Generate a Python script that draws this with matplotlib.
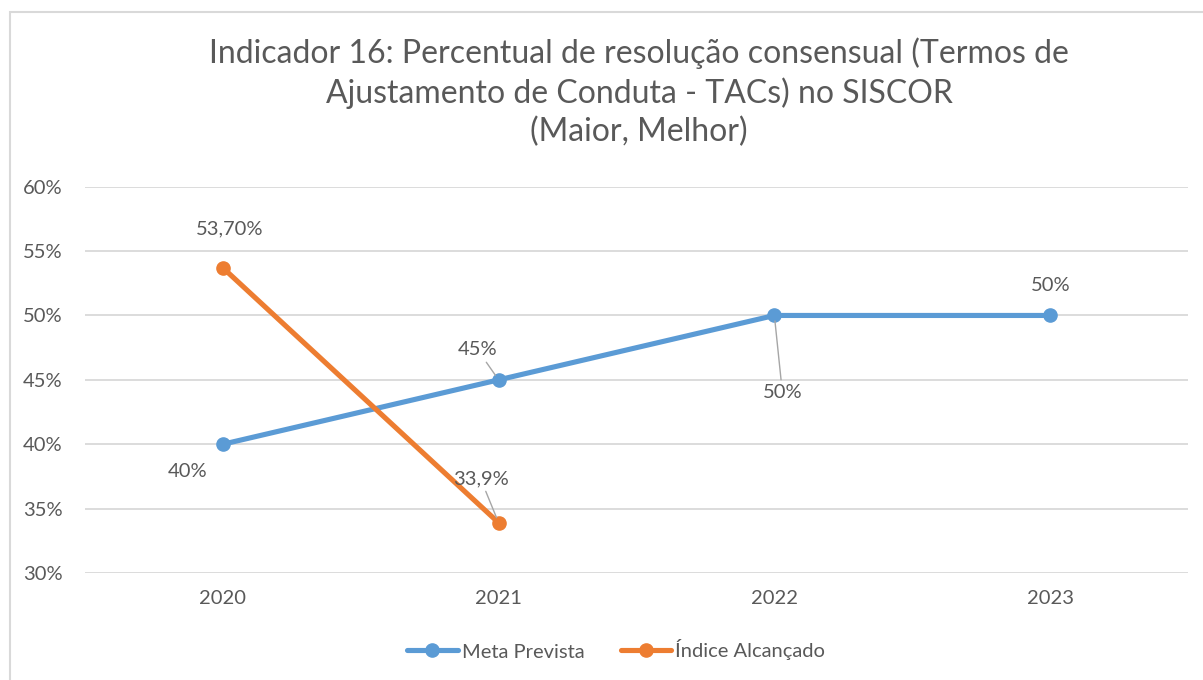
import matplotlib.pyplot as plt
from matplotlib.patches import Rectangle
from matplotlib.ticker import FuncFormatter

# dados
anos = ['2020', '2021', '2022', '2023']
meta_prevista = [40, 45, 50, 50]
indice_alcancado = [53.7, 33.9]
rotulos_meta = ['40%', '45%', '50%', '50%']
rotulos_indice = ['53,70%', '33,9%']

AZUL = '#5B9BD5'
LARANJA = '#ED7D31'
CINZA_TXT = '#595959'
CINZA_GRADE = '#D9D9D9'
FONTE = 'Lato'
TAM = 14.5

plt.rcParams['font.family'] = [FONTE, 'DejaVu Sans']

fig = plt.figure(figsize=(12.03, 6.8), dpi=100)
ax = fig.add_axes([85 / 1203, 1 - 573 / 680, 1103 / 1203, (573 - 186.7) / 680])

x = list(range(len(anos)))
ax.plot(x, meta_prevista, color=AZUL, lw=3.7, marker='o', ms=9.5,
        label='Meta Prevista', solid_capstyle='round', zorder=3)
ax.plot(x[:len(indice_alcancado)], indice_alcancado, color=LARANJA, lw=3.7,
        marker='o', ms=9.5, label='Índice Alcançado',
        solid_capstyle='round', zorder=4)

ax.set_xlim(-0.5, len(anos) - 0.5)
ax.set_ylim(30, 60)
ax.set_yticks(range(30, 61, 5))
ax.yaxis.set_major_formatter(FuncFormatter(lambda v, p: f'{v:.0f}%'))
ax.set_xticks(x)
ax.set_xticklabels(anos)
ax.grid(axis='y', color=CINZA_GRADE, lw=1.3)
ax.set_axisbelow(True)
for s in ax.spines.values():
    s.set_visible(False)
ax.tick_params(length=0, labelsize=TAM, labelcolor=CINZA_TXT)
ax.tick_params(axis='y', pad=16)
ax.tick_params(axis='x', pad=12)

# rotulos de dados (deslocamento em pixels, linha guia)
desloc_meta = [(-35, -27, False), (-21, 30, True), (8, -77, True), (1, 30, False)]
desloc_indice = [(7, 39, False), (-18, 44, True)]


def rotular(xs, ys, textos, desloc):
    for xi, yi, t, (dx, dy, guia) in zip(xs, ys, textos, desloc):
        props = None
        if guia:
            props = dict(arrowstyle='-', color='#A6A6A6', lw=1,
                         shrinkA=1, shrinkB=4)
        ax.annotate(t, (xi, yi), xytext=(dx, dy), textcoords='offset pixels',
                    ha='center', va='center', fontsize=TAM, color=CINZA_TXT,
                    arrowprops=props, zorder=5)


rotular(x, meta_prevista, rotulos_meta, desloc_meta)
rotular(x, indice_alcancado, rotulos_indice, desloc_indice)

fig.text(639 / 1203, 1 - 92 / 680,
         'Indicador 16: Percentual de resolução consensual (Termos de\n'
         'Ajustamento de Conduta - TACs) no SISCOR\n(Maior, Melhor)',
         ha='center', va='center', fontsize=23, color=CINZA_TXT,
         linespacing=1.32)

fig.legend(loc='center', bbox_to_anchor=(616 / 1203, 1 - 650 / 680),
           ncol=2, frameon=False, fontsize=TAM, labelcolor=CINZA_TXT,
           handlelength=2.5, columnspacing=1.8, handletextpad=0.2)

fig.patches.append(Rectangle((9.5 / 1203, -0.1), 1.2, 1 - 11.5 / 680 + 0.1,
                             transform=fig.transFigure, fill=False,
                             edgecolor=CINZA_GRADE, lw=1.5))

fig.savefig('out.png', dpi=100)
